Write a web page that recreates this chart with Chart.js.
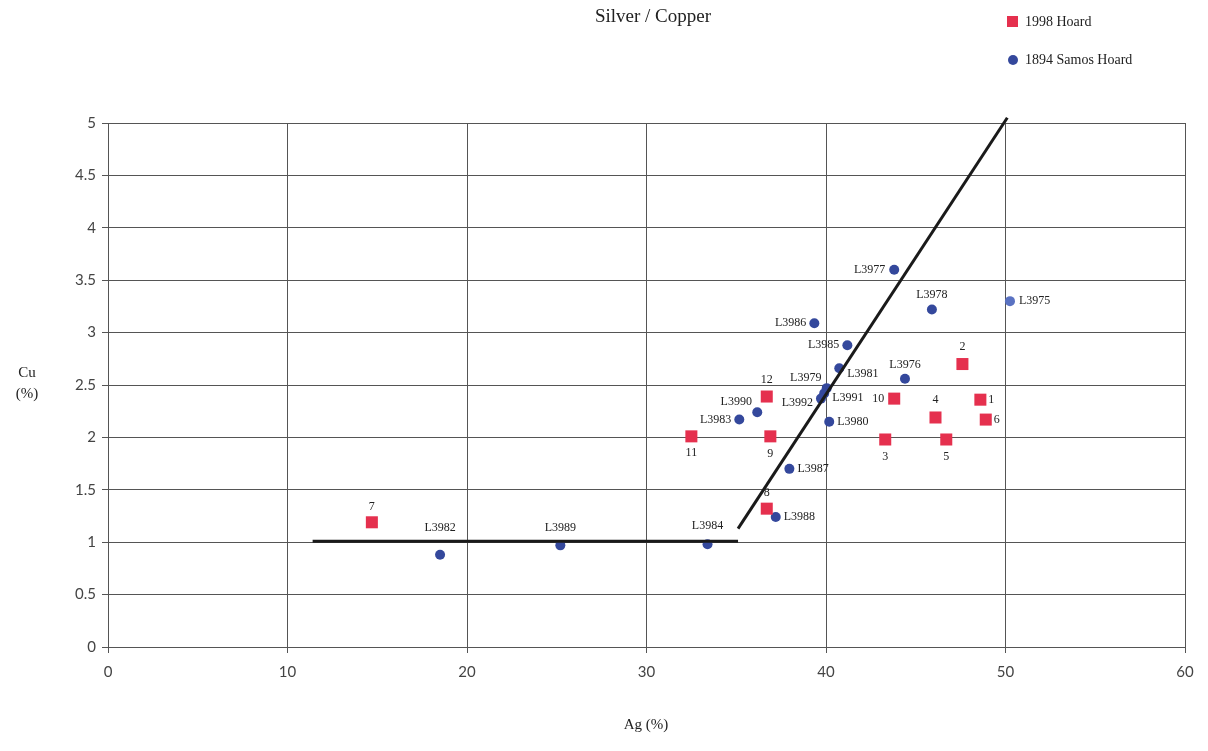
<!DOCTYPE html>
<html>
<head>
<meta charset="utf-8">
<script src="https://cdn.jsdelivr.net/npm/chart.js@4.4.1/dist/chart.umd.min.js"></script>
<style>
  html, body { margin: 0; padding: 0; background: #fff; }
  #wrap { width: 1208px; height: 751px; position: relative; }
</style>
</head>
<body>
<div id="wrap"><canvas id="chart"></canvas></div>
<script>
// 1998 Hoard (red squares), labelled 1..12
const hoardLabels = ['1', '2', '3', '4', '5', '6', '7', '8', '9', '10', '11', '12'];
const hoardAg = [48.6, 47.6, 43.3, 46.1, 46.7, 48.9, 14.7, 36.7, 36.9, 43.8, 32.5, 36.7];
const hoardCu = [2.36, 2.70, 1.98, 2.19, 1.98, 2.17, 1.19, 1.32, 2.01, 2.37, 2.01, 2.39];

// 1894 Samos Hoard (blue circles)
const samosLabels = ['L3975', 'L3976', 'L3977', 'L3978', 'L3979', 'L3980', 'L3981', 'L3982', 'L3983',
  'L3984', 'L3985', 'L3986', 'L3987', 'L3988', 'L3989', 'L3990', 'L3991', 'L3992'];
const samosAg = [50.25, 44.4, 43.8, 45.9, 40.04, 40.18, 40.74, 18.5, 35.17,
  33.4, 41.19, 39.35, 37.96, 37.2, 25.2, 36.17, 39.9, 39.72];
const samosCu = [3.30, 2.56, 3.60, 3.22, 2.47, 2.15, 2.66, 0.88, 2.17,
  0.98, 2.88, 3.09, 1.70, 1.24, 0.97, 2.24, 2.42, 2.37];

// hand-drawn trend lines
const flatAg = [11.4, 35.1];
const flatCu = [1.01, 1.01];
const steepAg = [35.1, 50.1];
const steepCu = [1.13, 5.05];

const RED = '#e5304e';
const BLUE = '#34489c';

function toPoints(xs, ys) {
  return xs.map((x, i) => ({ x: x, y: ys[i] }));
}

// where each point label sits relative to its marker: [dx, dy, align]
const labelPlace = {
  '1': [8, 0, 'left'], '2': [0, -17, 'center'], '3': [0, 17, 'center'], '4': [0, -18, 'center'],
  '5': [0, 17, 'center'], '6': [8, 0, 'left'], '7': [0, -15, 'center'], '8': [0, -16, 'center'],
  '9': [0, 17, 'center'], '10': [-10, 0, 'right'], '11': [0, 16, 'center'], '12': [0, -17, 'center'],
  'L3975': [9, 0, 'left'], 'L3976': [0, -14, 'center'], 'L3977': [-9, 0, 'right'],
  'L3978': [0, -15, 'center'], 'L3979': [-21, -10, 'center'], 'L3980': [8, 0, 'left'],
  'L3981': [8, 6, 'left'], 'L3982': [0, -27, 'center'], 'L3983': [-8, 0, 'right'],
  'L3984': [0, -18, 'center'], 'L3985': [-8, 0, 'right'], 'L3986': [-8, 0, 'right'],
  'L3987': [8, 0, 'left'], 'L3988': [8, 0, 'left'], 'L3989': [0, -18, 'center'],
  'L3990': [-21, -10, 'center'], 'L3991': [8, 4, 'left'], 'L3992': [-8, 4, 'right']
};

const pointLabels = {
  id: 'pointLabels',
  afterDatasetsDraw(chart) {
    const ctx = chart.ctx;
    ctx.save();
    ctx.font = '12px "Liberation Serif", serif';
    ctx.fillStyle = '#222';
    ctx.textBaseline = 'middle';
    chart.data.datasets.forEach((ds, di) => {
      if (!ds.pointNames) return;
      chart.getDatasetMeta(di).data.forEach((el, i) => {
        const name = ds.pointNames[i];
        const p = labelPlace[name] || [8, 0, 'left'];
        ctx.textAlign = p[2];
        ctx.fillText(name, el.x + p[0], el.y + p[1]);
      });
    });
    ctx.restore();
  }
};

const decorations = {
  id: 'decorations',
  afterDraw(chart) {
    const ctx = chart.ctx;
    ctx.save();
    ctx.fillStyle = '#222';
    ctx.textBaseline = 'middle';
    // title
    ctx.font = '19px "Liberation Serif", serif';
    ctx.textAlign = 'center';
    ctx.fillText('Silver / Copper', 653, 17);
    // legend
    ctx.font = '14px "Liberation Serif", serif';
    ctx.textAlign = 'left';
    ctx.fillStyle = RED;
    ctx.fillRect(1007, 16, 11, 11);
    ctx.fillStyle = '#222';
    ctx.fillText('1998 Hoard', 1025, 22);
    ctx.fillStyle = BLUE;
    ctx.beginPath();
    ctx.arc(1013, 60, 5, 0, Math.PI * 2);
    ctx.fill();
    ctx.fillStyle = '#222';
    ctx.fillText('1894 Samos Hoard', 1025, 60);
    // axis titles
    ctx.font = '15px "Liberation Serif", serif';
    ctx.textAlign = 'center';
    ctx.fillText('Cu', 27, 373);
    ctx.fillText('(%)', 27, 394);
    ctx.fillText('Ag (%)', 646, 725);
    ctx.restore();
  }
};

new Chart(document.getElementById('chart'), {
  type: 'scatter',
  data: {
    datasets: [
      {
        label: '1998 Hoard',
        data: toPoints(hoardAg, hoardCu),
        pointNames: hoardLabels,
        pointStyle: 'rect',
        pointRadius: 8.5,
        pointHoverRadius: 8.5,
        backgroundColor: RED,
        borderColor: RED,
        borderWidth: 0,
        order: 1
      },
      {
        label: '1894 Samos Hoard',
        data: toPoints(samosAg, samosCu),
        pointNames: samosLabels,
        pointStyle: 'circle',
        pointRadius: 5,
        pointHoverRadius: 5,
        backgroundColor: samosLabels.map(l => l === 'L3975' ? '#5a72c2' : BLUE),
        borderColor: samosLabels.map(l => l === 'L3975' ? '#5a72c2' : BLUE),
        borderWidth: 0,
        order: 1
      },
      {
        label: 'flat',
        data: toPoints(flatAg, flatCu),
        showLine: true,
        pointRadius: 0,
        borderColor: '#1a1a1a',
        borderWidth: 3,
        order: 0
      },
      {
        label: 'steep',
        data: toPoints(steepAg, steepCu),
        showLine: true,
        pointRadius: 0,
        borderColor: '#1a1a1a',
        borderWidth: 3,
        clip: false,
        order: 0
      }
    ]
  },
  options: {
    responsive: true,
    maintainAspectRatio: false,
    animation: false,
    layout: {
      padding: { top: 123, right: 23, bottom: 44, left: 0 }
    },
    plugins: {
      legend: { display: false },
      tooltip: { enabled: false }
    },
    scales: {
      x: {
        type: 'linear',
        min: 0,
        max: 60,
        afterFit: s => { s.height = 60; },
        ticks: {
          stepSize: 10,
          padding: 10,
          color: '#444',
          font: { family: 'Lato, "DejaVu Sans", sans-serif', size: 15 }
        },
        grid: { color: '#555', lineWidth: 1, tickLength: 6 },
        border: { color: '#555', width: 1 }
      },
      y: {
        type: 'linear',
        min: 0,
        max: 5,
        afterFit: s => { s.width = 108; },
        ticks: {
          stepSize: 0.5,
          padding: 6,
          color: '#444',
          font: { family: 'Lato, "DejaVu Sans", sans-serif', size: 15 },
          callback: v => String(v)
        },
        grid: { color: '#555', lineWidth: 1, tickLength: 6 },
        border: { color: '#555', width: 1 }
      }
    }
  },
  plugins: [pointLabels, decorations]
});
</script>
</body>
</html>
